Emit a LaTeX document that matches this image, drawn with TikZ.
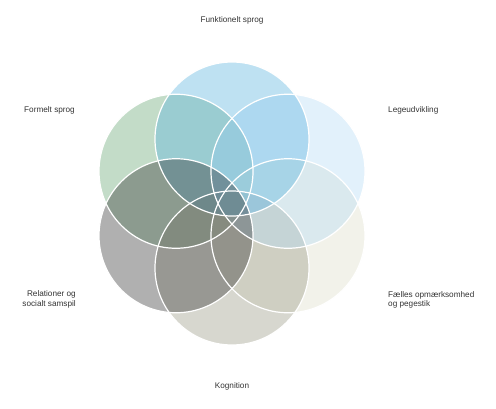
\documentclass[tikz,border=0pt]{standalone}
\usepackage{fontspec}
\setmainfont{Liberation Sans}
\begin{document}
\begin{tikzpicture}[x=1pt,y=-1pt,
  petal/.style={circle,minimum size=154pt,inner sep=0pt,outer sep=0pt,fill opacity=0.4},
  rim/.style={draw=white,line width=1.2pt},
  lbl/.style={font=\fontsize{8.2}{9.4}\selectfont,text=black!80,inner sep=0pt}]
\useasboundingbox (0,0) rectangle (496,408);
\definecolor{cTop}{RGB}{93,180,223}
\definecolor{cUR}{RGB}{183,220,245}
\definecolor{cLR}{RGB}{223,223,203}
\definecolor{cBot}{RGB}{155,155,135}
\definecolor{cLL}{RGB}{58,58,58}
\definecolor{cUL}{RGB}{105,168,118}
\node[petal,fill=cUL] (p6) at (176,171.25) {};
\node[petal,fill=cLR] (p3) at (288,235.75) {};
\node[petal,fill=cBot] (p4) at (232,268) {};
\node[petal,fill=cUR] (p2) at (288,171.25) {};
\node[petal,fill=cTop] (p1) at (232,139) {};
\node[petal,fill=cLL] (p5) at (176,235.75) {};
\foreach \p in {p1,p2,p3,p4,p5,p6} \draw[rim] (\p) circle[radius=77pt];
\node[lbl] (t1) at (232,20.5) {Funktionelt sprog};
\node[lbl,anchor=west] (t6) at (24,110.5) {Formelt sprog};
\node[lbl,anchor=west] (t2) at (388,110.5) {Legeudvikling};
\node[lbl,anchor=east,align=right] (t5) at (76,299.5) {Relationer og\\socialt samspil};
\node[lbl,anchor=west,align=left] (t3) at (388,300) {Fælles opmærksomhed\\og pegestik};
\node[lbl] (t4) at (232,386.5) {Kognition};
\end{tikzpicture}
\end{document}
